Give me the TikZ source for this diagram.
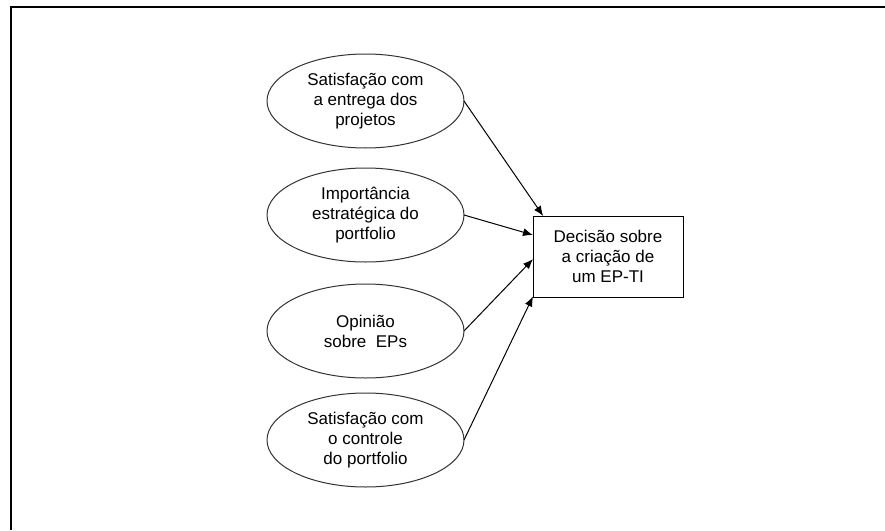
\documentclass[tikz,border=0pt]{standalone}
\usepackage{fontspec}
\setmainfont{Liberation Sans}
\usetikzlibrary{shapes.geometric,arrows.meta}

\begin{document}
\begin{tikzpicture}[x=1pt, y=-1pt,
    every node/.style = {align=center, inner sep=0pt, outer sep=0pt,
      font=\fontsize{17}{20}\selectfont},
    fator/.style = {shape=ellipse, draw=black!80, line width=1pt,
      minimum width=197pt, minimum height=94pt},
    decisao/.style = {shape=rectangle, draw, line width=1pt,
      minimum width=150pt, minimum height=81pt},
    seta/.style = {-{Latex[length=10pt,width=8pt]}, line width=1pt}]
  \useasboundingbox (0,0) rectangle (885,530);
  % moldura
  \draw[line width=2pt] (885,6.5) -| (11,530);
  \node[fator] (satent) at (365.5,101) {Satisfação com\\a entrega dos\\projetos};
  \node[fator] (import) at (365.5,215) {Importância\\estratégica do\\portfolio};
  \node[fator] (opin) at (365.5,331) {Opinião\\sobre\ \ EPs};
  \node[fator] (satctl) at (365.5,440) {Satisfação com\\o controle\\do portfolio};
  \node[decisao] (dec) at (608,256.5) {Decisão sobre\\a criação de\\um EP-TI};
  \draw[seta] (satent.east) -- (dec.148);
  \draw[seta] (import.east) -- (dec.164);
  \draw[seta] (opin.east) -- (dec.182);
  \draw[seta] (satctl.east) -- (dec.208);
\end{tikzpicture}
\end{document}
